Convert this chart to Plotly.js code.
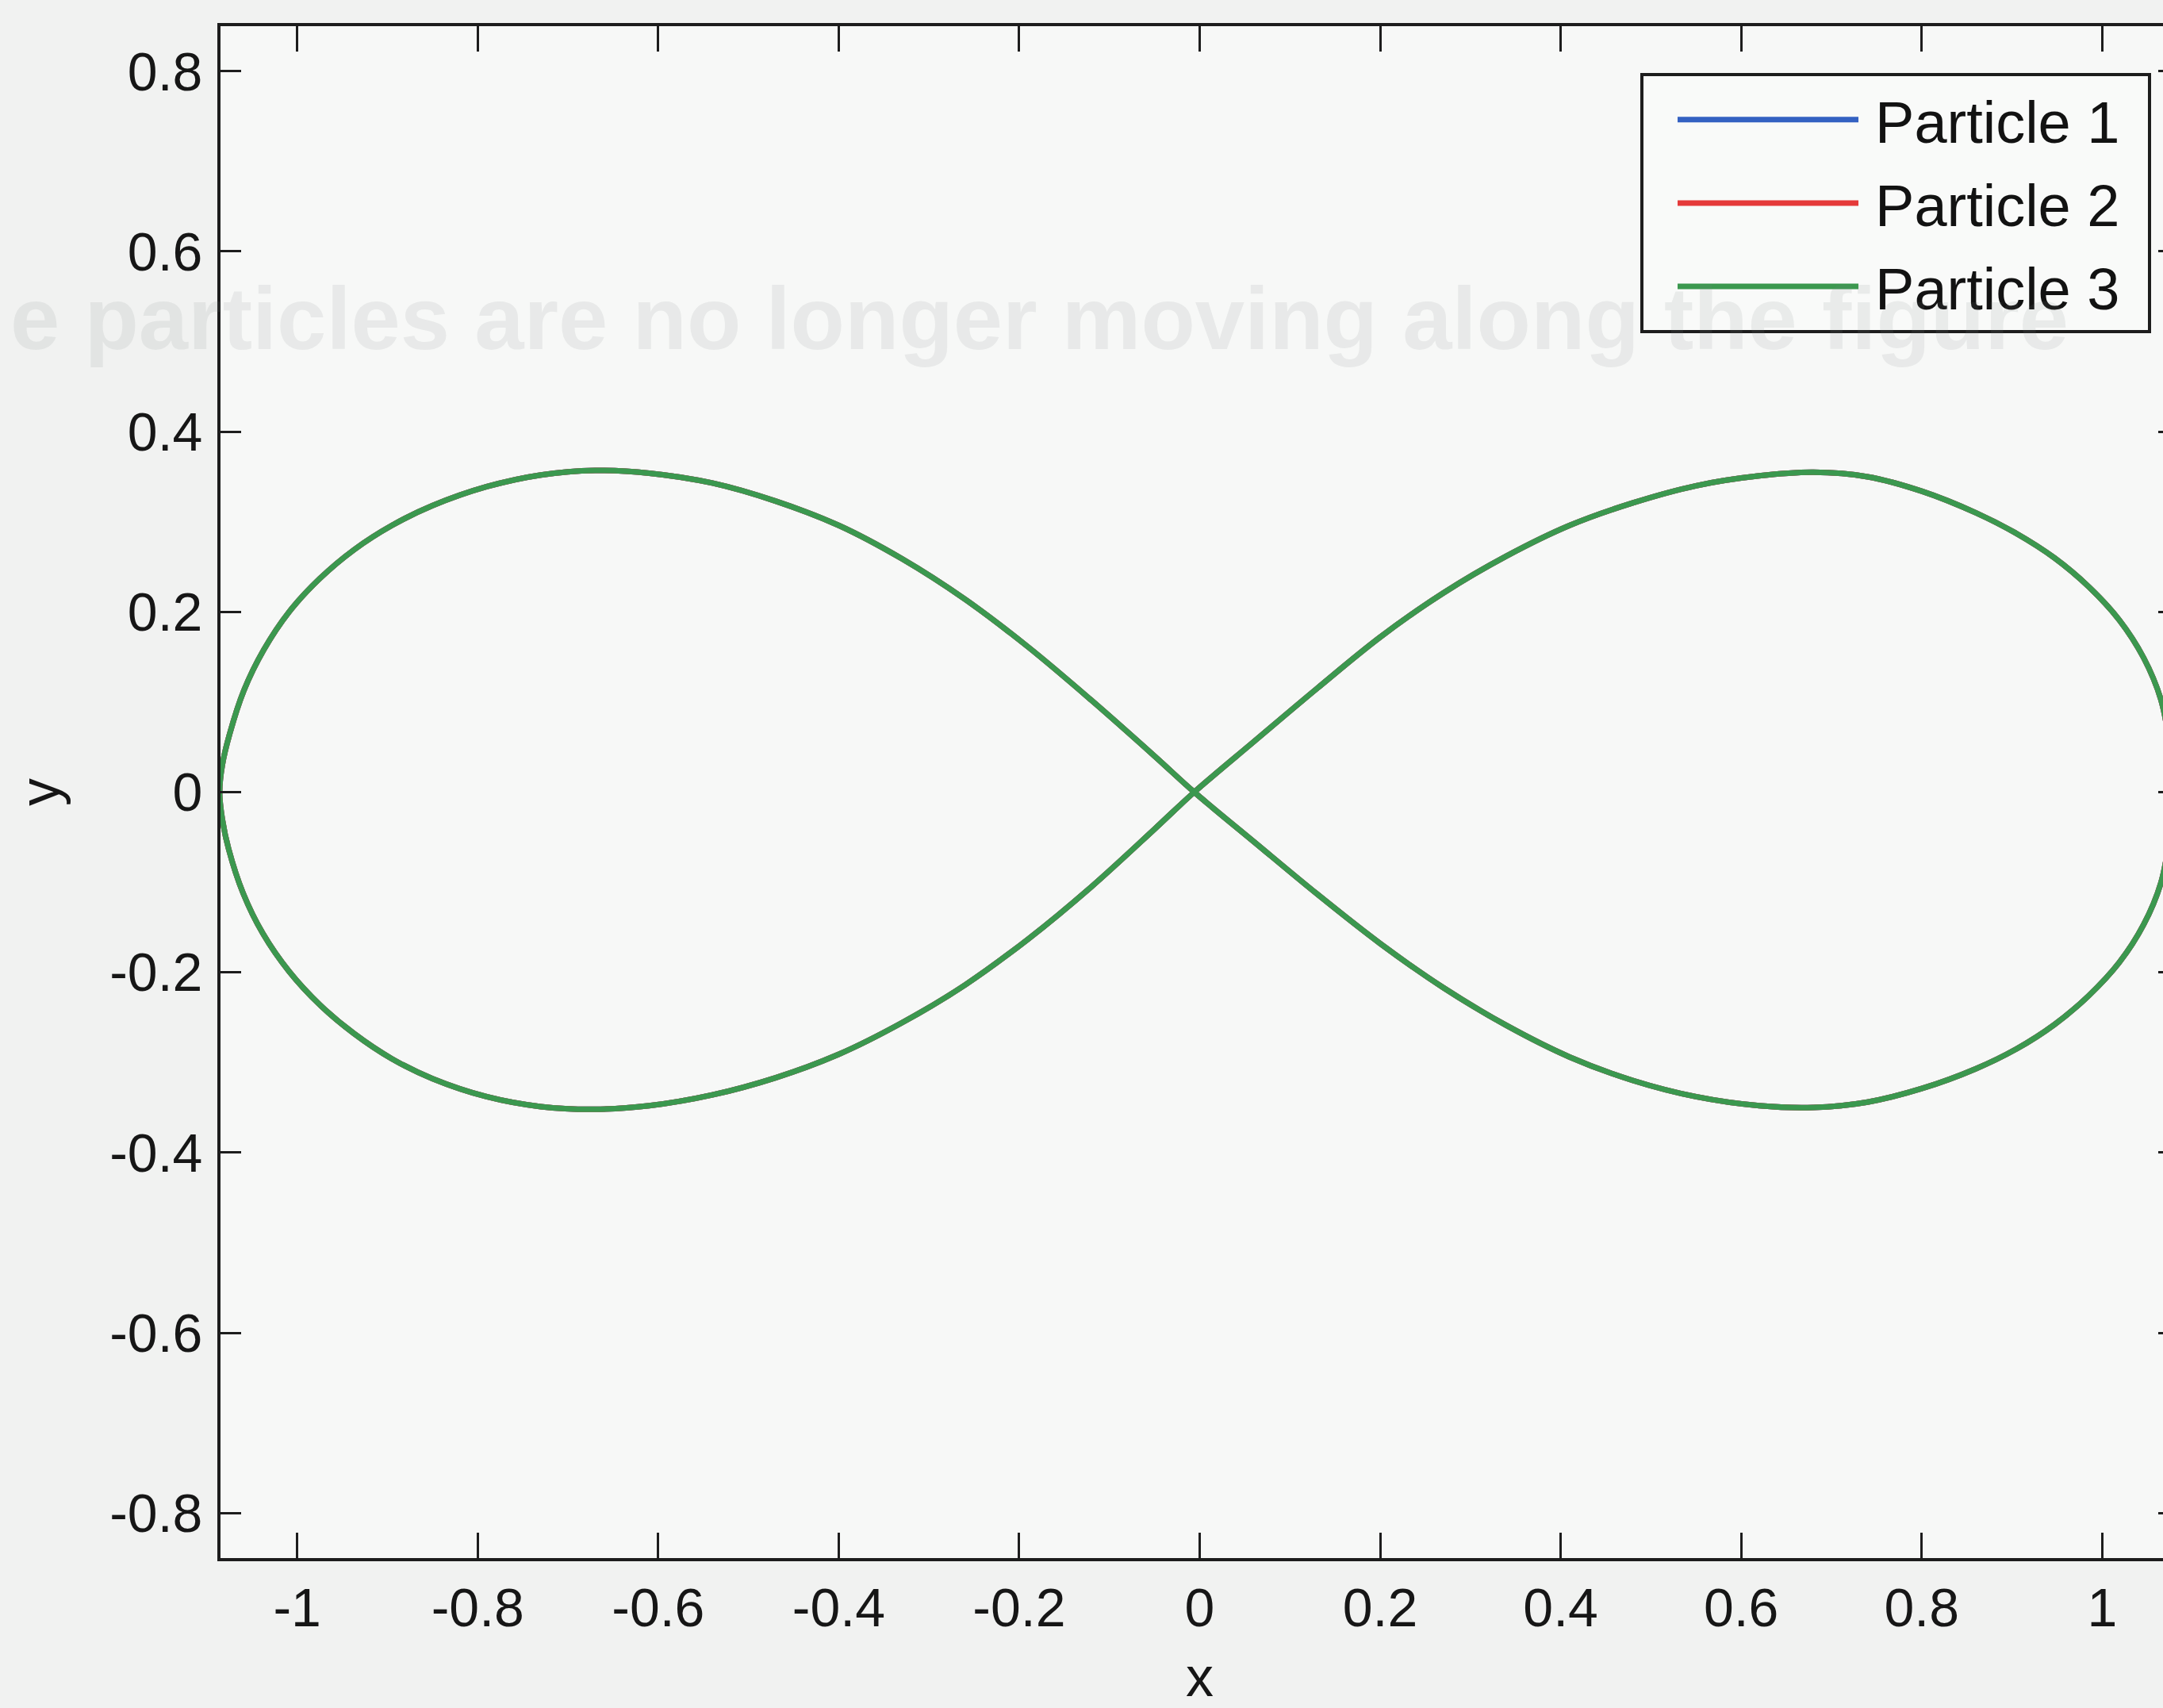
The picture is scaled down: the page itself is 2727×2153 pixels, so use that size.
<!DOCTYPE html>
<html>
<head>
<meta charset="utf-8">
<script src="https://cdn.plot.ly/plotly-3.0.1.min.js"></script>
<style>
  html, body { margin: 0; padding: 0; overflow: hidden; background: #f1f2f1; }
  #chart { width: 2757px; height: 2153px; }
</style>
</head>
<body>
<div id="chart"></div>
<script>
// Trajectory shared by the three particles (figure-8 path), in plot units.
// Starts at the crossing, runs round the right loop, then round the left loop.
const pathX = [
  -0.006, 0.06, 0.13, 0.20, 0.27, 0.34, 0.41, 0.48, 0.55, 0.62, 0.68, 0.74,
  0.80, 0.86, 0.905, 0.947, 0.985, 1.019, 1.046, 1.065, 1.074, 1.078,
  1.074, 1.065, 1.046, 1.019, 0.985, 0.947, 0.905, 0.86, 0.80, 0.74, 0.68,
  0.62, 0.55, 0.48, 0.41, 0.34, 0.27, 0.20, 0.13, 0.06, -0.006,
  -0.05, -0.12, -0.19, -0.26, -0.33, -0.40, -0.47, -0.54, -0.61, -0.67, -0.73,
  -0.79, -0.85, -0.895, -0.937, -0.975, -1.009, -1.037, -1.059, -1.075, -1.083, -1.086,
  -1.083, -1.076, -1.060, -1.038, -1.009, -0.975, -0.937, -0.895, -0.85, -0.79, -0.73,
  -0.67, -0.61, -0.54, -0.47, -0.40, -0.33, -0.26, -0.19, -0.12, -0.05, -0.006
];
const pathY = [
  0.000, 0.056, 0.115, 0.172, 0.221, 0.262, 0.296, 0.321, 0.340, 0.351, 0.355, 0.350,
  0.334, 0.310, 0.287, 0.260, 0.228, 0.191, 0.149, 0.103, 0.056, 0.000,
  -0.054, -0.101, -0.147, -0.189, -0.226, -0.258, -0.285, -0.307, -0.329, -0.344, -0.350,
  -0.348, -0.338, -0.320, -0.294, -0.259, -0.217, -0.168, -0.113, -0.055, 0.000,
  0.040, 0.102, 0.161, 0.214, 0.259, 0.296, 0.323, 0.343, 0.354, 0.357, 0.352,
  0.339, 0.318, 0.296, 0.269, 0.237, 0.200, 0.158, 0.113, 0.064, 0.030, 0.000,
  -0.030, -0.063, -0.112, -0.157, -0.199, -0.236, -0.268, -0.296, -0.318, -0.338, -0.349,
  -0.352, -0.348, -0.336, -0.317, -0.291, -0.256, -0.214, -0.163, -0.105, -0.041, 0.000
];

const particleNames = ['Particle 1', 'Particle 2', 'Particle 3'];
const particleColors = ['#3461c2', '#e53a3a', '#3b984f'];

const xTickVals = [-1, -0.8, -0.6, -0.4, -0.2, 0, 0.2, 0.4, 0.6, 0.8, 1];
const xTickText = ['-1', '-0.8', '-0.6', '-0.4', '-0.2', '0', '0.2', '0.4', '0.6', '0.8', '1'];
const yTickVals = [-0.8, -0.6, -0.4, -0.2, 0, 0.2, 0.4, 0.6, 0.8];
const yTickText = ['-0.8', '-0.6', '-0.4', '-0.2', '0', '0.2', '0.4', '0.6', '0.8'];

const FONT = 'Liberation Sans, Arial, Helvetica, sans-serif';

const traces = particleNames.map((name, i) => ({
  type: 'scatter',
  mode: 'lines',
  name: name,
  x: pathX,
  y: pathY,
  legendgroup: 'g' + i,
  line: { color: particleColors[i], width: 7, shape: 'spline', smoothing: 1 },
  hoverinfo: 'skip'
}));

const axisCommon = {
  showline: true,
  linecolor: '#1d1d1d',
  linewidth: 4,
  mirror: 'ticks',
  ticks: 'inside',
  tickwidth: 3,
  tickcolor: '#1d1d1d',
  showgrid: false,
  zeroline: false,
  automargin: false,
  tickfont: { family: FONT, size: 68, color: '#161616' }
};

const layout = {
  width: 2757,
  height: 2153,
  margin: { l: 278, r: 10, t: 33, b: 189 },
  paper_bgcolor: '#f1f2f1',
  plot_bgcolor: '#f7f8f7',
  showlegend: true,
  xaxis: Object.assign({}, axisCommon, {
    range: [-1.085, 1.085],
    tickmode: 'array',
    tickvals: xTickVals,
    ticktext: xTickText,
    ticklen: 32,
    ticklabelstandoff: 0,
    title: { text: 'x', font: { family: FONT, size: 70, color: '#161616' }, standoff: 93 }
  }),
  yaxis: Object.assign({}, axisCommon, {
    range: [-0.85, 0.85],
    tickmode: 'array',
    tickvals: yTickVals,
    ticktext: yTickText,
    ticklen: 26,
    ticklabelstandoff: 5,
    title: { text: 'y', font: { family: FONT, size: 70, color: '#161616' }, standoff: 42 }
  }),
  legend: {
    x: 0.725, y: 0.9694, xanchor: 'left', yanchor: 'top',
    bgcolor: '#f9faf9',
    bordercolor: '#1d1d1d',
    borderwidth: 4,
    font: { family: FONT, size: 74, color: '#121212' },
    itemwidth: 282,
    tracegroupgap: 6,
    itemclick: false,
    itemdoubleclick: false
  },
  annotations: [{
    // faint print-through line across the upper part of the sheet
    xref: 'paper', yref: 'paper',
    x: -0.108, y: 0.809, xanchor: 'left', yanchor: 'middle',
    text: 'e particles are no longer moving along the figure',
    showarrow: false,
    font: { family: FONT, size: 112, weight: 'bold', color: 'rgba(120,128,128,0.12)' }
  }]
};

// Longer legend samples and a wider legend box, as on a MATLAB figure.
function styleLegend(gd) {
  gd.querySelectorAll('.legend .traces .legendlines path').forEach(p => {
    p.setAttribute('d', 'M43,0h228');
  });
  const bg = gd.querySelector('.legend rect.bg');
  if (bg) bg.setAttribute('width', 640);
}

Plotly.newPlot('chart', traces, layout, { staticPlot: true, displayModeBar: false })
  .then(gd => { styleLegend(gd); });
</script>
</body>
</html>
